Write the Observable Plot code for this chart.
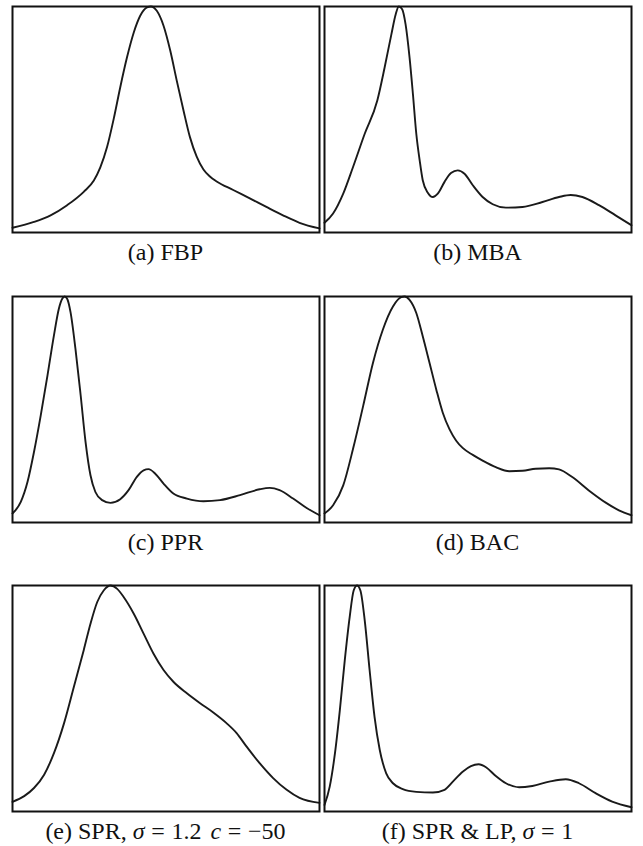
<!DOCTYPE html>
<html><head><meta charset="utf-8">
<script src="https://cdn.jsdelivr.net/npm/d3@7"></script>
<script src="https://cdn.jsdelivr.net/npm/@observablehq/plot@0.6"></script>
<style>
html,body{margin:0;padding:0;background:#fff;}
body{width:643px;height:846px;position:relative;overflow:hidden;}
.panel{position:absolute;}
.panel svg{display:block;}
.cap{position:absolute;width:311px;text-align:center;font-family:"Liberation Serif","Times New Roman",serif;font-size:24px;line-height:24px;color:#111;white-space:nowrap;}
.cap i{font-style:italic;}
.cap .eq{margin:0 0.28em;}
.cap .sp{margin-left:0.12em;}
</style></head><body>
<script>
// (a) FBP
const fbpX = [0,7.0,12.4,17.8,23.2,26.5,28.6,30.8,33.0,35.1,37.3,39.5,41.6,43.8,45.1,47.0,49.2,51.4,53.5,55.7,57.8,60.0,62.2,64.3,66.5,71.9,77.3,82.7,88.1,93.5,100];
const fbpY = [0.021,0.047,0.076,0.121,0.180,0.230,0.288,0.378,0.505,0.643,0.775,0.885,0.959,0.996,1.0,0.981,0.915,0.804,0.672,0.540,0.422,0.336,0.279,0.248,0.226,0.188,0.151,0.113,0.076,0.043,0.018];
// (b) MBA
const mbaX = [0,2.8,6.1,9.3,13.1,17.2,19.6,21.8,23.2,24.2,25.3,26.4,27.7,28.8,29.9,31.0,32.0,33.7,35.3,36.9,39.1,41.2,43.4,45.6,48.3,51.5,54.8,59.1,64.5,71.0,76.4,80.2,84.0,89.4,94.8,100];
const mbaY = [0.043,0.084,0.172,0.290,0.437,0.584,0.731,0.878,0.966,1.0,0.988,0.922,0.775,0.613,0.437,0.319,0.231,0.175,0.157,0.172,0.224,0.263,0.275,0.260,0.209,0.157,0.125,0.110,0.113,0.135,0.157,0.166,0.157,0.121,0.076,0.032];
// (c) PPR
const pprX = [0,2.7,4.9,7.0,9.2,11.4,13.5,15.1,16.2,17.0,17.8,18.9,20.5,22.2,23.8,25.4,27.0,29.2,31.9,35.1,37.8,40.5,42.7,44.3,46.5,49.2,52.4,56.8,62.2,67.6,74.1,80.5,83.8,87.0,91.4,95.7,100];
const pprY = [0.040,0.091,0.180,0.312,0.474,0.651,0.828,0.946,0.990,1.0,0.990,0.931,0.769,0.563,0.356,0.209,0.135,0.099,0.087,0.103,0.143,0.202,0.231,0.236,0.216,0.172,0.128,0.106,0.094,0.099,0.121,0.147,0.153,0.143,0.106,0.065,0.032];
// (d) BAC
const bacX = [0,2.8,6.1,9.3,12.6,15.8,19.0,22.3,25.0,26.1,27.7,29.9,32.0,34.2,36.4,38.5,40.7,42.9,45.0,48.3,51.5,55.8,60.2,64.5,68.8,73.2,76.4,80.7,86.1,91.6,95.9,100];
const bacY = [0.040,0.076,0.164,0.326,0.516,0.707,0.853,0.956,0.997,1.0,0.985,0.927,0.824,0.707,0.589,0.487,0.413,0.362,0.330,0.299,0.274,0.245,0.227,0.229,0.238,0.240,0.235,0.201,0.142,0.088,0.054,0.032];
// (e) SPR, sigma = 1.2, c = -50
const sprX = [0,3.8,7.0,10.3,13.5,16.8,20.0,23.2,25.4,27.6,29.7,31.9,34.1,36.2,39.5,42.7,45.9,49.2,52.4,56.8,61.1,65.4,69.7,73.0,76.2,80.5,84.9,89.2,93.5,100];
const sprY = [0.043,0.068,0.104,0.163,0.258,0.391,0.552,0.714,0.831,0.927,0.978,1.0,0.985,0.949,0.875,0.787,0.699,0.626,0.574,0.523,0.479,0.438,0.391,0.347,0.288,0.214,0.148,0.097,0.060,0.038];
// (f) SPR & LP, sigma = 1
const lpX = [0,1.7,3.4,5.0,6.6,8.2,9.5,10.6,11.7,13.1,14.7,16.3,18.0,20.1,22.3,25.5,29.9,35.3,39.1,41.8,45.0,47.7,50.2,52.6,55.8,59.1,63.4,67.7,73.2,78.6,82.9,88.3,93.7,100];
const lpY = [0.029,0.110,0.257,0.449,0.669,0.860,0.978,1.0,0.978,0.846,0.625,0.419,0.272,0.169,0.125,0.099,0.087,0.084,0.096,0.132,0.176,0.201,0.209,0.196,0.157,0.125,0.107,0.113,0.132,0.143,0.125,0.081,0.044,0.019];

const captions = [
  "(a) FBP",
  "(b) MBA",
  "(c) PPR",
  "(d) BAC",
  "(e) SPR, <i>σ</i><span class=\"eq\">=</span>1.2 <i class=\"sp\">c</i><span class=\"eq\">=</span>−50",
  "(f) SPR &amp; LP, <i>σ</i><span class=\"eq\">=</span>1"
];

const series = [[fbpX,fbpY],[mbaX,mbaY],[pprX,pprY],[bacX,bacY],[sprX,sprY],[lpX,lpY]];
const colLeft = [10, 322];
const rowTop = [4, 294, 583];
const W = 311, H = 230, M = 2;

series.forEach(([xs, ys], i) => {
  const data = xs.map((x, k) => ({x, y: ys[k]}));
  const chart = Plot.plot({
    width: W, height: H,
    margin: M,
    x: {domain: [0, 100], axis: null},
    y: {domain: [0, 1], axis: null},
    marks: [
      Plot.line(data, {x: "x", y: "y", stroke: "#1a1a1a", strokeWidth: 1.9, curve: "monotone-x"}),
      Plot.frame({stroke: "#111", strokeWidth: 2})
    ]
  });
  const div = document.createElement("div");
  div.className = "panel";
  div.style.left = colLeft[i % 2] + "px";
  div.style.top = rowTop[Math.floor(i / 2)] + "px";
  div.appendChild(chart);
  document.body.appendChild(div);

  const cap = document.createElement("div");
  cap.className = "cap";
  cap.innerHTML = captions[i];
  cap.style.left = colLeft[i % 2] + "px";
  cap.style.top = (rowTop[Math.floor(i / 2)] + H + 6) + "px";
  document.body.appendChild(cap);
});
</script>
</body></html>
